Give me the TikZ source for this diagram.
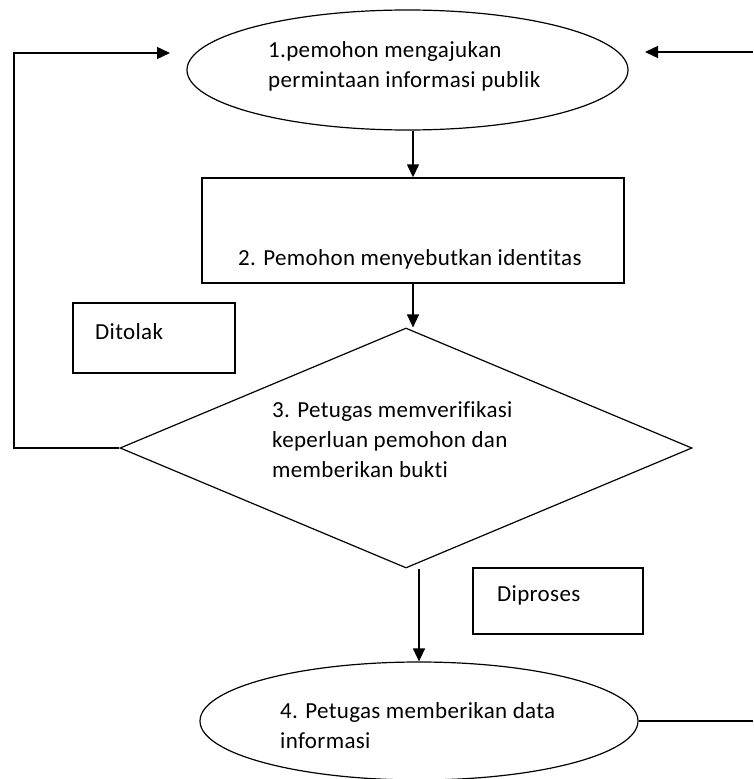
\documentclass[tikz,border=0pt]{standalone}
\usepackage{fontspec}
\setmainfont[Ligatures={NoCommon}, LetterSpace=1.5]{Carlito}
\usetikzlibrary{shapes.geometric, arrows.meta}

\tikzset{
  box/.style={draw, line width=1.4pt, rectangle, inner sep=0pt},
  oval/.style={draw, line width=1.2pt, ellipse, inner sep=0pt},
  rhomb/.style={draw, line width=1.2pt, diamond, inner sep=0pt},
  txt/.style={anchor=north west, align=left, inner sep=0pt, font=\fontsize{23}{30}\selectfont},
  arr/.style={line width=1.4pt, -{Triangle[length=13pt,width=12pt]}},
  conn/.style={line width=1.4pt}
}

\begin{document}
\begin{tikzpicture}[x=1pt, y=-1pt]
\useasboundingbox (0,0) rectangle (753,779);

\node [oval, minimum width=441pt, minimum
height=120pt] (mohon) at (407.5,70) {};
\node [txt] (tmohon) at ([shift={(-139.5,-29)}]mohon.center) {1.pemohon mengajukan\\permintaan informasi publik};

\node [box, minimum width=422pt, minimum
height=105pt] (identitas) at (413,230.5) {};
\node [txt] (tidentitas) at ([shift={(-175,19)}]identitas.center) {2. Pemohon menyebutkan identitas};

\node [box, minimum width=162pt, minimum
height=70pt] (tolak) at (154,338) {};
\node [txt] (ttolak) at ([shift={(-59,-15)}]tolak.center) {Ditolak};

\node [rhomb, minimum width=572pt, minimum
height=240pt] (verif) at (406,448) {};
\node [txt] (tverif) at ([shift={(-134,-47)}]verif.center) {3. Petugas memverifikasi\\keperluan pemohon dan\\memberikan bukti};

\node [box, minimum width=170pt, minimum
height=66pt] (proses) at (558,601) {};
\node [txt] (tproses) at ([shift={(-61,-16)}]proses.center) {Diproses};

\node [oval, minimum width=438pt, minimum
height=118pt] (data) at (419,721) {};
\node [txt] (tdata) at ([shift={(-139,-19)}]data.center) {4. Petugas memberikan data\\informasi};

% connectors
\coordinate (inL) at (170,53);
\coordinate (back) at (14,53);
\coordinate (inR) at (645,52);
\coordinate (edgeR) at (753,52);
\coordinate (edgeB) at (753,718);

\draw [arr] (mohon.south -| identitas.north) -- (identitas.north);
\draw [arr] (identitas.south) -- (identitas.south |- verif.north);
\draw [arr] (verif.south -| data.north) -- (data.north);
\draw [arr] (verif.west) -| (back) -- (inL);
\draw [arr] (edgeR) -- (inR);
\draw [conn] (data.east) -- (data.east -| edgeB);
\end{tikzpicture}
\end{document}
